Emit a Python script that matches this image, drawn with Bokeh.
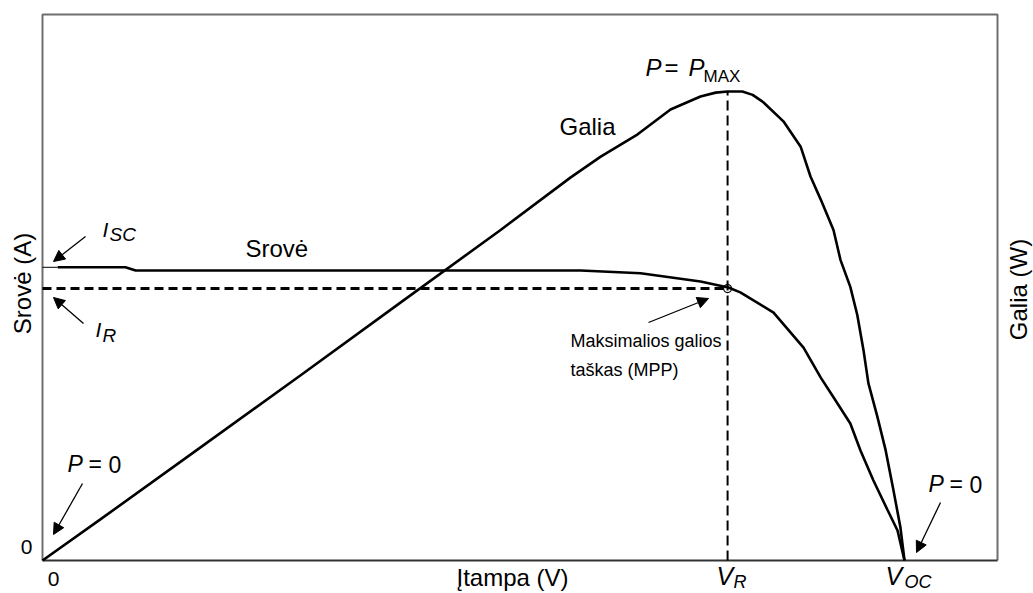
import math
from bokeh.plotting import figure
from bokeh.models import Range1d, Label, Arrow, NormalHead
from bokeh.embed import file_html
from bokeh.resources import INLINE

# ---------------- data ----------------
V_OC = 21.0
voltage_current = [0.0, 0.37, 1.07, 2.02, 2.27, 6.29, 13.11, 14.57, 16.03, 16.71, 17.0,
                   17.81, 18.54, 18.96, 19.27, 19.68, 19.93, 20.24, 20.59, 20.83, 21.0]
current = [5.37, 5.37, 5.37, 5.37, 5.31, 5.31, 5.31, 5.26, 5.11, 5.0, 4.91,
           4.54, 3.90, 3.35, 2.99, 2.51, 2.01, 1.47, 0.92, 0.55, 0.0]

voltage_power = [0.0, 1.41, 3.85, 6.29, 8.72, 11.16, 12.86, 13.59, 14.50, 15.30, 16.03,
                 16.40, 16.69, 17.05, 17.30, 17.56, 18.05, 18.47, 18.71, 18.96, 19.27,
                 19.44, 19.68, 19.85, 20.00, 20.12, 20.34, 20.54, 20.73, 20.90, 21.0]
power = [0.0, 7.3, 20.1, 32.9, 45.8, 58.7, 68.0, 71.7, 75.7, 80.1, 82.4,
         83.1, 83.3, 83.3, 82.7, 81.4, 78.0, 73.5, 68.2, 64.1, 58.7,
         53.4, 48.6, 43.6, 37.4, 31.5, 25.5, 19.6, 12.5, 5.9, 0.0]

V_R = 16.69
I_R = 4.98
P_MAX = max(power)

# ---------------- layout helpers (page pixel -> data) ----------------
W, H = 1033, 593
L, R, T, B = 42, 997, 14, 560          # box of the diagram on the page
X_MAX = (R - L) * V_OC / 862.0         # voltage at the right edge of the box
Y_MAX = 10.0                           # current at the top edge of the box
P_TOP = P_MAX * (B - T) / 469.0        # power at the top edge of the box


def dx(px):
    return (px - L) * X_MAX / (R - L)


def dy(py):
    return (B - py) * Y_MAX / (B - T)


def dp(py):
    return (B - py) * P_TOP / (B - T)


FONT = "Liberation Sans"

p = figure(width=W, height=H, output_backend="svg", toolbar_location=None,
           x_range=Range1d(dx(0), dx(W)), y_range=Range1d(dy(H), dy(0)),
           x_axis_location=None, y_axis_location=None,
           min_border_left=0, min_border_right=0, min_border_top=0, min_border_bottom=0)
p.extra_y_ranges = {"power": Range1d(dp(H), dp(0))}
p.grid.visible = False
p.outline_line_color = None
p.background_fill_color = "white"
p.border_fill_color = "white"

# diagram box
p.line([0, 0, X_MAX, X_MAX], [0, Y_MAX, Y_MAX, 0], line_color="#6e6e6e", line_width=2)
p.line([0, X_MAX], [0, 0], line_color="#333333", line_width=2)

# dashed guides
p.line([0, V_R], [I_R, I_R], line_color="black", line_width=3, line_dash="9 5")
p.line([V_R, V_R], [0, P_MAX], y_range_name="power", line_color="black",
       line_width=2, line_dash="10 5")

# curves
p.line(voltage_current[:2], current[:2], line_color="black", line_width=1)
p.line(voltage_current[1:], current[1:], line_color="black", line_width=2.6)
p.line(voltage_power, power, y_range_name="power", line_color="black", line_width=2.6)

# MPP marker
p.scatter([V_R], [I_R], marker="circle", size=8, fill_color=None,
          line_color="black", line_width=1.2)


def lab(px, py, text, size=24, style="normal", align="left", baseline="alphabetic", angle=0):
    if baseline == "alphabetic":
        py = py - 0.4 * size      # compensate the renderer's baseline offset
    p.add_layout(Label(x=dx(px), y=dy(py), text=text, text_font=FONT,
                       text_font_size=f"{size}px", text_font_style=style,
                       text_align=align, text_baseline=baseline, angle=angle,
                       text_color="black"))


def arrow(x0, y0, x1, y1):
    p.add_layout(Arrow(x_start=dx(x0), y_start=dy(y0), x_end=dx(x1), y_end=dy(y1),
                       line_color="black", line_width=1.3,
                       end=NormalHead(size=11, fill_color="black", line_color="black",
                                      line_width=1)))


# axis titles
lab(22, 283, "Srovė (A)", size=24, align="center", baseline="middle", angle=math.pi / 2)
lab(1018, 289, "Galia (W)", size=24, align="center", baseline="middle", angle=math.pi / 2)
lab(456, 587, "Įtampa (V)", size=24)

# tick-like labels
lab(32, 555, "0", size=21, align="right")
lab(53, 587, "0", size=21, align="center")
lab(716, 585, "V", size=25, style="italic")
lab(733, 589, "R", size=18, style="italic")
lab(885, 585, "V", size=25, style="italic")
lab(904, 589, "OC", size=18, style="italic")

# curve names
lab(245, 258, "Srovė", size=24)
lab(559, 136, "Galia", size=24)

# P = P_MAX
lab(645, 77, "P", size=24, style="italic")
lab(664, 77, "=", size=24)
lab(688, 77, "P", size=24, style="italic")
lab(703, 83, "MAX", size=17)

# I_SC and I_R
lab(102, 237, "I", size=21, style="italic")
lab(109, 242, "SC", size=19, style="italic")
lab(95, 337, "I", size=21, style="italic")
lab(102, 343, "R", size=19, style="italic")

# P = 0 labels
lab(67, 473, "P", size=23, style="italic")
lab(88, 473, "=", size=23)
lab(108, 473, "0", size=23)
lab(928, 493, "P", size=23, style="italic")
lab(949, 493, "=", size=23)
lab(969, 493, "0", size=23)

# MPP text
lab(570, 348, "Maksimalios galios", size=18)
lab(570, 377, "taškas (MPP)", size=18)

# arrows
arrow(85, 236, 53, 261)
arrow(83, 323, 53, 297)
arrow(82, 483, 53, 534)
arrow(940, 502, 916, 552)
arrow(648, 322, 708, 298)

open("out.html", "w").write(file_html(p, INLINE))
